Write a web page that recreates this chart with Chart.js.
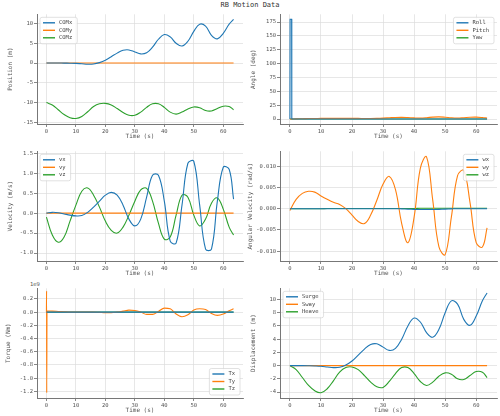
<!DOCTYPE html>
<html lang="en">
<head>
<meta charset="UTF-8" />
<title>RB Motion Data</title>
<script src="https://cdn.jsdelivr.net/npm/chart.js"></script>
<style>
  body { margin: 0; background: #fff; font-family: "DejaVu Sans Mono", monospace; }
  #fig { position: relative; width: 500px; height: 416px; overflow: hidden; }
  #title { position: absolute; top: 1px; left: 0; width: 500px; text-align: center; font-size: 7px; color: #333; font-weight: normal; }
  .panel { position: absolute; }
  .note { position: absolute; font-size: 5.5px; color: #555; }
</style>
</head>
<body>
<div id="fig">
  <div id="title">RB Motion Data</div>
  <div class="note" style="left:30px;top:281px;">1e9</div>
</div>
<script>
  const t = [0,2,4,6,8,10,12,14,16,18,20,22,24,26,28,30,32,34,36,38,40,42,44,46,48,50,52,54,56,58,60,62,63.5];
  const ends = [0, 63.5];
  const timeTicks = [0, 10, 20, 30, 40, 50, 60];

  const comX = [0,0,0,-0.02,-0.05,-0.1,-0.2,-0.3,-0.25,0.1,0.7,1.6,2.5,3.2,3.3,2.8,2.3,2.6,4.0,6.0,7.2,6.6,5.0,4.3,5.5,8.0,9.8,9.3,7.0,6.1,7.5,9.8,11];
  const comZ = [-10,-10.6,-11.8,-13,-13.8,-14,-13.5,-12.3,-11,-10.3,-10.2,-10.6,-11.5,-12.5,-13.2,-13.2,-12.4,-11.2,-10.3,-10.3,-11.2,-12.4,-12.9,-12.4,-11.6,-11.1,-11.3,-12.0,-12.1,-11.5,-10.9,-11.0,-11.8];

  const rollT = [0, 0.05, 0.55, 0.6, 63.5];
  const rollV = [0, 180, 180, 0, 0];
  const pitch = [0,0.3,0.6,0.8,1,1.1,1.2,1.2,1.2,1.2,1.2,1.1,1,1,1.2,1.6,2.2,2.8,3,2.6,2,1.8,2.4,3.4,3.8,3.2,2.2,1.8,2.4,3.2,3.4,2.6,1.6];

  const vx = [0,0.02,0.01,-0.02,-0.05,-0.07,-0.06,0.02,0.15,0.3,0.45,0.52,0.45,0.2,-0.15,-0.32,-0.15,0.4,0.95,0.95,0.3,-0.7,-0.75,0.2,1.25,1.3,0.2,-0.9,-0.9,0.3,1.15,1.1,0.35];
  const vz = [-0.1,-0.55,-0.73,-0.6,-0.2,0.2,0.55,0.63,0.45,0.15,-0.2,-0.43,-0.5,-0.35,-0.05,0.3,0.58,0.62,0.3,-0.25,-0.65,-0.6,-0.05,0.45,0.4,-0.05,-0.32,-0.15,0.25,0.38,0.1,-0.35,-0.55];

  const wy = [-0.0004,0.0022,0.0036,0.0041,0.0039,0.003,0.0022,0.0015,0.001,0,-0.0015,-0.003,-0.0035,-0.0015,0.002,0.0058,0.0076,0.0045,-0.0035,-0.008,-0.002,0.0095,0.0122,0.002,-0.009,-0.0108,-0.002,0.0078,0.009,0.0015,-0.008,-0.009,-0.0045];
  const wx = [0,0,0,0,0,0,0,0,0,0,0,0,0,0,0,0,0,0,-0.00005,-0.0001,-0.00015,-0.0002,-0.0002,-0.0002,-0.00015,-0.0001,-0.00005,0,0,0,0,0,0];
  const wz = [0,0,0,0,0,0,0.00005,0.00005,0.00005,0.00005,0.00005,0.00005,0.00005,0.00005,0.00005,0.00005,0.00005,0.00005,0.00005,0.00005,0.00005,0.0001,0.0001,0.0001,0.0001,0.0001,0.0001,0.0001,0.0001,0.0001,0.0001,0.0001,0.0001];

  const spikeT = [0, 0.05, 0.1, 0.2];
  const spikeTy = [0, 0.32, -1.22, 0.02];
  const ty = [0.02,0.015,0.01,0.005,0,0,0,0,0,-0.005,-0.01,-0.01,0,0.015,0.03,0.025,0,-0.035,-0.035,0.01,0.06,0.05,-0.03,-0.07,-0.04,0.03,0.05,0.04,-0.02,-0.05,-0.03,0.02,0.05];

  const surge = [0,0,0,-0.02,-0.05,-0.1,-0.2,-0.3,-0.25,0.1,0.7,1.6,2.5,3.2,3.3,2.8,2.3,2.6,4.0,6.0,7.2,6.6,5.0,4.3,5.5,8.0,9.8,9.3,7.0,6.1,7.5,9.8,11];
  const heave = [0,-0.6,-1.8,-3,-3.8,-4.1,-3.5,-2.3,-1,-0.3,-0.2,-0.6,-1.5,-2.5,-3.2,-3.3,-2.4,-1.2,-0.3,-0.3,-1.2,-2.4,-3.0,-2.5,-1.6,-1.1,-1.3,-2.0,-2.1,-1.5,-0.9,-1.0,-1.8];

  const C = ['#1f77b4', '#ff7f0e', '#2ca02c'];

  function pts(xs, ys) { return xs.map((x, i) => ({ x: x, y: ys[i] })); }
  function zero() { return pts(ends, [0, 0]); }

  const insideLegend = {
    id: 'insideLegend',
    afterDraw(chart) {
      const o = chart.options.plugins.insideLegend;
      const ctx = chart.ctx, a = chart.chartArea;
      const names = chart.data.datasets.map(d => d.label);
      ctx.save();
      ctx.font = '5.5px "DejaVu Sans Mono"';
      const w = 18 + Math.max(...names.map(n => ctx.measureText(n).width)) + 6;
      const h = names.length * 7.5 + 4;
      const x = o.pos.includes('left') ? a.left + 3 : a.right - w - 3;
      const y = o.pos.includes('upper') ? a.top + 3 : a.bottom - h - 3;
      ctx.fillStyle = 'rgba(255,255,255,0.85)';
      ctx.strokeStyle = '#ccc';
      ctx.lineWidth = 0.6;
      ctx.beginPath(); ctx.roundRect(x, y, w, h, 2); ctx.fill(); ctx.stroke();
      chart.data.datasets.forEach((d, i) => {
        const yy = y + 5.5 + i * 7.5;
        ctx.strokeStyle = d.borderColor; ctx.lineWidth = 1.4;
        ctx.beginPath(); ctx.moveTo(x + 3, yy); ctx.lineTo(x + 15, yy); ctx.stroke();
        ctx.fillStyle = '#444'; ctx.textBaseline = 'middle';
        ctx.fillText(d.label, x + 19, yy);
      });
      ctx.restore();
    }
  };

  const fig = document.getElementById('fig');

  function panel(p) {
    const yW = p.yW;
    const x0 = p.left - yW, y0 = p.top - 3;
    const div = document.createElement('div');
    div.className = 'panel';
    div.style.left = x0 + 'px'; div.style.top = y0 + 'px';
    div.style.width = (p.right - x0 + 3) + 'px';
    div.style.height = (p.bottom - y0 + 19) + 'px';
    const cv = document.createElement('canvas');
    div.appendChild(cv); fig.appendChild(div);
    const tickFont = { family: 'DejaVu Sans Mono', size: 5.5 };
    const titleFont = { family: 'DejaVu Sans Mono', size: 6, weight: 'normal' };
    new Chart(cv, {
      type: 'line',
      data: {
        datasets: p.series.map((s, i) => ({
          label: s.label, data: s.data, borderColor: C[i], borderWidth: 1.1,
          pointRadius: 0, tension: s.tension === undefined ? 0.4 : s.tension,
          cubicInterpolationMode: s.mono ? 'monotone' : 'default'
        }))
      },
      options: {
        responsive: true, maintainAspectRatio: false, animation: false,
        layout: { padding: { top: 3, right: 3, left: 0, bottom: 0 } },
        plugins: { legend: { display: false }, tooltip: { enabled: false }, insideLegend: { pos: p.legend } },
        scales: {
          x: {
            type: 'linear', min: -3.2, max: 66.7,
            afterBuildTicks: s => { s.ticks = timeTicks.map(v => ({ value: v })); },
            ticks: { font: tickFont, color: '#555', padding: 1 },
            grid: { color: '#ddd', lineWidth: 0.7, tickLength: 3, tickColor: '#555' },
            border: { color: '#777', width: 1 },
            title: { display: true, text: 'Time (s)', font: titleFont, color: '#555', padding: 0 },
            afterFit: s => { s.height = 16; }
          },
          y: {
            min: p.ymin, max: p.ymax,
            afterBuildTicks: s => { s.ticks = p.ticks.map(v => ({ value: v })); },
            ticks: { font: tickFont, color: '#555', padding: 1, callback: v => p.fmt(v) },
            grid: { color: '#ddd', lineWidth: 0.7, tickLength: 3, tickColor: '#555' },
            border: { color: '#777', width: 1 },
            title: { display: true, text: p.ylabel, font: titleFont, color: '#555', padding: 0 },
            afterFit: s => { s.width = yW; }
          }
        }
      },
      plugins: [insideLegend]
    });
  }

  const range = (a, b, s) => { const r = []; for (let v = a; v <= b + 1e-9; v += s) r.push(+v.toFixed(4)); return r; };

  panel({ left: 37, right: 243, top: 13, bottom: 121, yW: 30, ymin: -15.4, ymax: 12.3,
    ticks: range(-15, 10, 5), fmt: v => v, ylabel: 'Position (m)', legend: 'upper left',
    series: [{ label: 'COMx', data: pts(t, comX) }, { label: 'COMy', data: zero() }, { label: 'COMz', data: pts(t, comZ) }] });

  panel({ left: 280, right: 497, top: 13, bottom: 121, yW: 30, ymin: -9, ymax: 189,
    ticks: range(0, 175, 25), fmt: v => v, ylabel: 'Angle (deg)', legend: 'upper right',
    series: [{ label: 'Roll', data: pts(rollT, rollV), tension: 0 }, { label: 'Pitch', data: pts(t, pitch) }, { label: 'Yaw', data: zero() }] });

  panel({ left: 37, right: 243, top: 150, bottom: 258, yW: 30, ymin: -1.2, ymax: 1.55,
    ticks: range(-1, 1.5, 0.5), fmt: v => v.toFixed(1), ylabel: 'Velocity (m/s)', legend: 'upper left',
    series: [{ label: 'vx', data: pts(t, vx) }, { label: 'vy', data: zero() }, { label: 'vz', data: pts(t, vz) }] });

  panel({ left: 280, right: 497, top: 150, bottom: 258, yW: 33, ymin: -0.0123, ymax: 0.0135,
    ticks: range(-0.01, 0.01, 0.005), fmt: v => v.toFixed(3), ylabel: 'Angular Velocity (rad/s)', legend: 'upper right',
    series: [{ label: 'wx', data: pts(t, wx) }, { label: 'wy', data: pts(t, wy) }, { label: 'wz', data: pts(t, wz) }] });

  panel({ left: 37, right: 243, top: 287, bottom: 395, yW: 32, ymin: -1.3, ymax: 0.36,
    ticks: range(-1.2, 0.2, 0.2), fmt: v => v.toFixed(1), ylabel: 'Torque (Nm)', legend: 'lower right',
    series: [{ label: 'Tx', data: zero() }, { label: 'Ty', data: pts(spikeT.concat(t.slice(1)), spikeTy.concat(ty.slice(1))), tension: 0.3, mono: true }, { label: 'Tz', data: zero() }] });

  panel({ left: 280, right: 497, top: 287, bottom: 395, yW: 30, ymin: -4.9, ymax: 11.7,
    ticks: range(-4, 10, 2), fmt: v => v, ylabel: 'Displacement (m)', legend: 'upper left',
    series: [{ label: 'Surge', data: pts(t, surge) }, { label: 'Sway', data: zero() }, { label: 'Heave', data: pts(t, heave) }] });
</script>
</body>
</html>
